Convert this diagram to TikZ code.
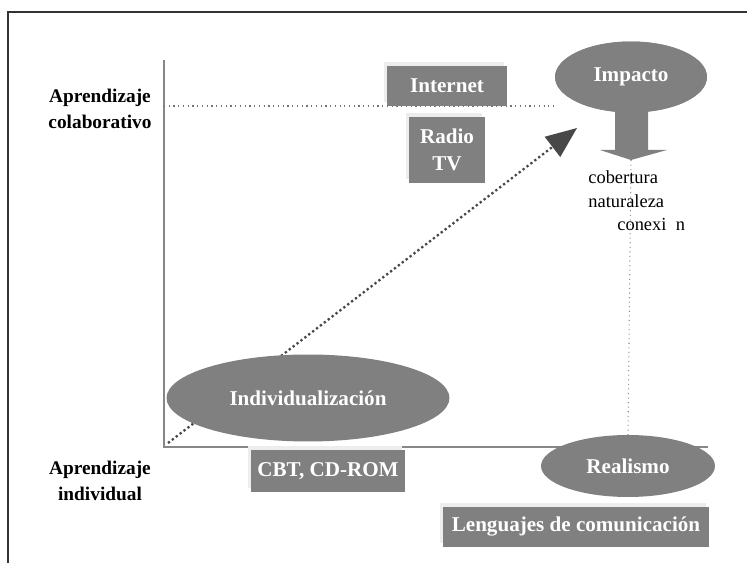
\documentclass[tikz,border=0pt]{standalone}
\usepackage{fontspec}
\setmainfont{Liberation Serif}
\usetikzlibrary{shapes.geometric,arrows.meta,shadows}
\definecolor{boxgray}{RGB}{128,128,128}
\definecolor{headgray}{RGB}{72,72,72}
\definecolor{axisgray}{RGB}{135,135,135}
\begin{document}
\begin{tikzpicture}[x=0.02cm, y=-0.02cm,
    medbox/.style={rectangle, fill=boxgray, text=white, inner sep=0pt, align=center,
      font=\bfseries\fontsize{12}{15}\selectfont,
      general shadow={fill=black!7, shadow xshift=-0.6mm, shadow yshift=0.8mm}},
    blob/.style={ellipse, fill=boxgray, text=white, inner sep=0pt,
      font=\bfseries\fontsize{12}{15}\selectfont},
    axislabel/.style={align=center, font=\bfseries\fontsize{11}{14.5}\selectfont},
    sidetext/.style={anchor=west, inner sep=0pt, font=\fontsize{10.5}{12}\selectfont}]
        \useasboundingbox (0,0) rectangle (747,563);
        % Frame
        \draw[line width=0.9pt, black!80] (8,563) -- (8,12) -- (747,12);
        % Axes
        \coordinate (orig) at (164,447);
        \coordinate (ytop) at (164,60);
        \coordinate (xend) at (708,447);
        \coordinate (hstart) at (164,106);
        \draw[line width=0.9pt, axisgray] (ytop) -- (orig) -- (xend);
        \node (colab) at (100,109) [axislabel] {Aprendizaje\\colaborativo};
        \node (indiv) at (100,481) [axislabel] {Aprendizaje\\individual};
        % Diagonal
        \coordinate (dstart) at (168,443);
        \coordinate (dtip) at (577,128);
        \draw[line width=1.3pt, headgray, dash pattern=on 1.3pt off 1.5pt,
              -{Triangle[length=0.62cm, width=0.5cm]}] (dstart) -- (dtip);
        % Impact arrow
        \node (impact) at (631,77) [blob, minimum width=3.04cm, minimum height=1.42cm] {};
        \coordinate (dntip) at (631,160);
        \draw[dotted, line width=0.6pt, black!45] (dntip) -- (628,435);
        \fill[boxgray] (615,105) -- (648,105) -- (648,150) -- (667,150)
              -- (dntip) -- (600,150) -- (615,150) -- cycle;
        \draw[dotted, line width=0.7pt, black!55] (hstart) -- (impact.west |- hstart);
        % Nodes
        \node at (impact) [blob, minimum width=3.04cm, minimum height=1.42cm] {Impacto};
        \node (inet) at (447,86) [medbox, minimum width=2.4cm, minimum height=0.8cm] {Internet};
        \node (radio) at (447,150) [medbox, minimum width=1.52cm, minimum height=1.32cm] {Radio\\TV};
        \node (indv) at (308,398) [blob, minimum width=5.66cm, minimum height=1.74cm] {Individualización};
        \node (cbt) at (328,471) [medbox, minimum width=3.08cm, minimum height=0.84cm] {CBT, CD-ROM};
        \node (real) at (628,466) [blob, minimum width=3.48cm, minimum height=1.24cm] {Realismo};
        \node (leng) at (576,527) [medbox, minimum width=5.34cm, minimum height=0.8cm] {Lenguajes de comunicación};
        % Labels
        \node (cob) at (588,177) [sidetext] {cobertura};
        \node (nat) at (588,201) [sidetext] {naturaleza};
        \node (cnx) at (617,224) [sidetext] {conexi\hspace{0.5em}n};
    \end{tikzpicture}
\end{document}
